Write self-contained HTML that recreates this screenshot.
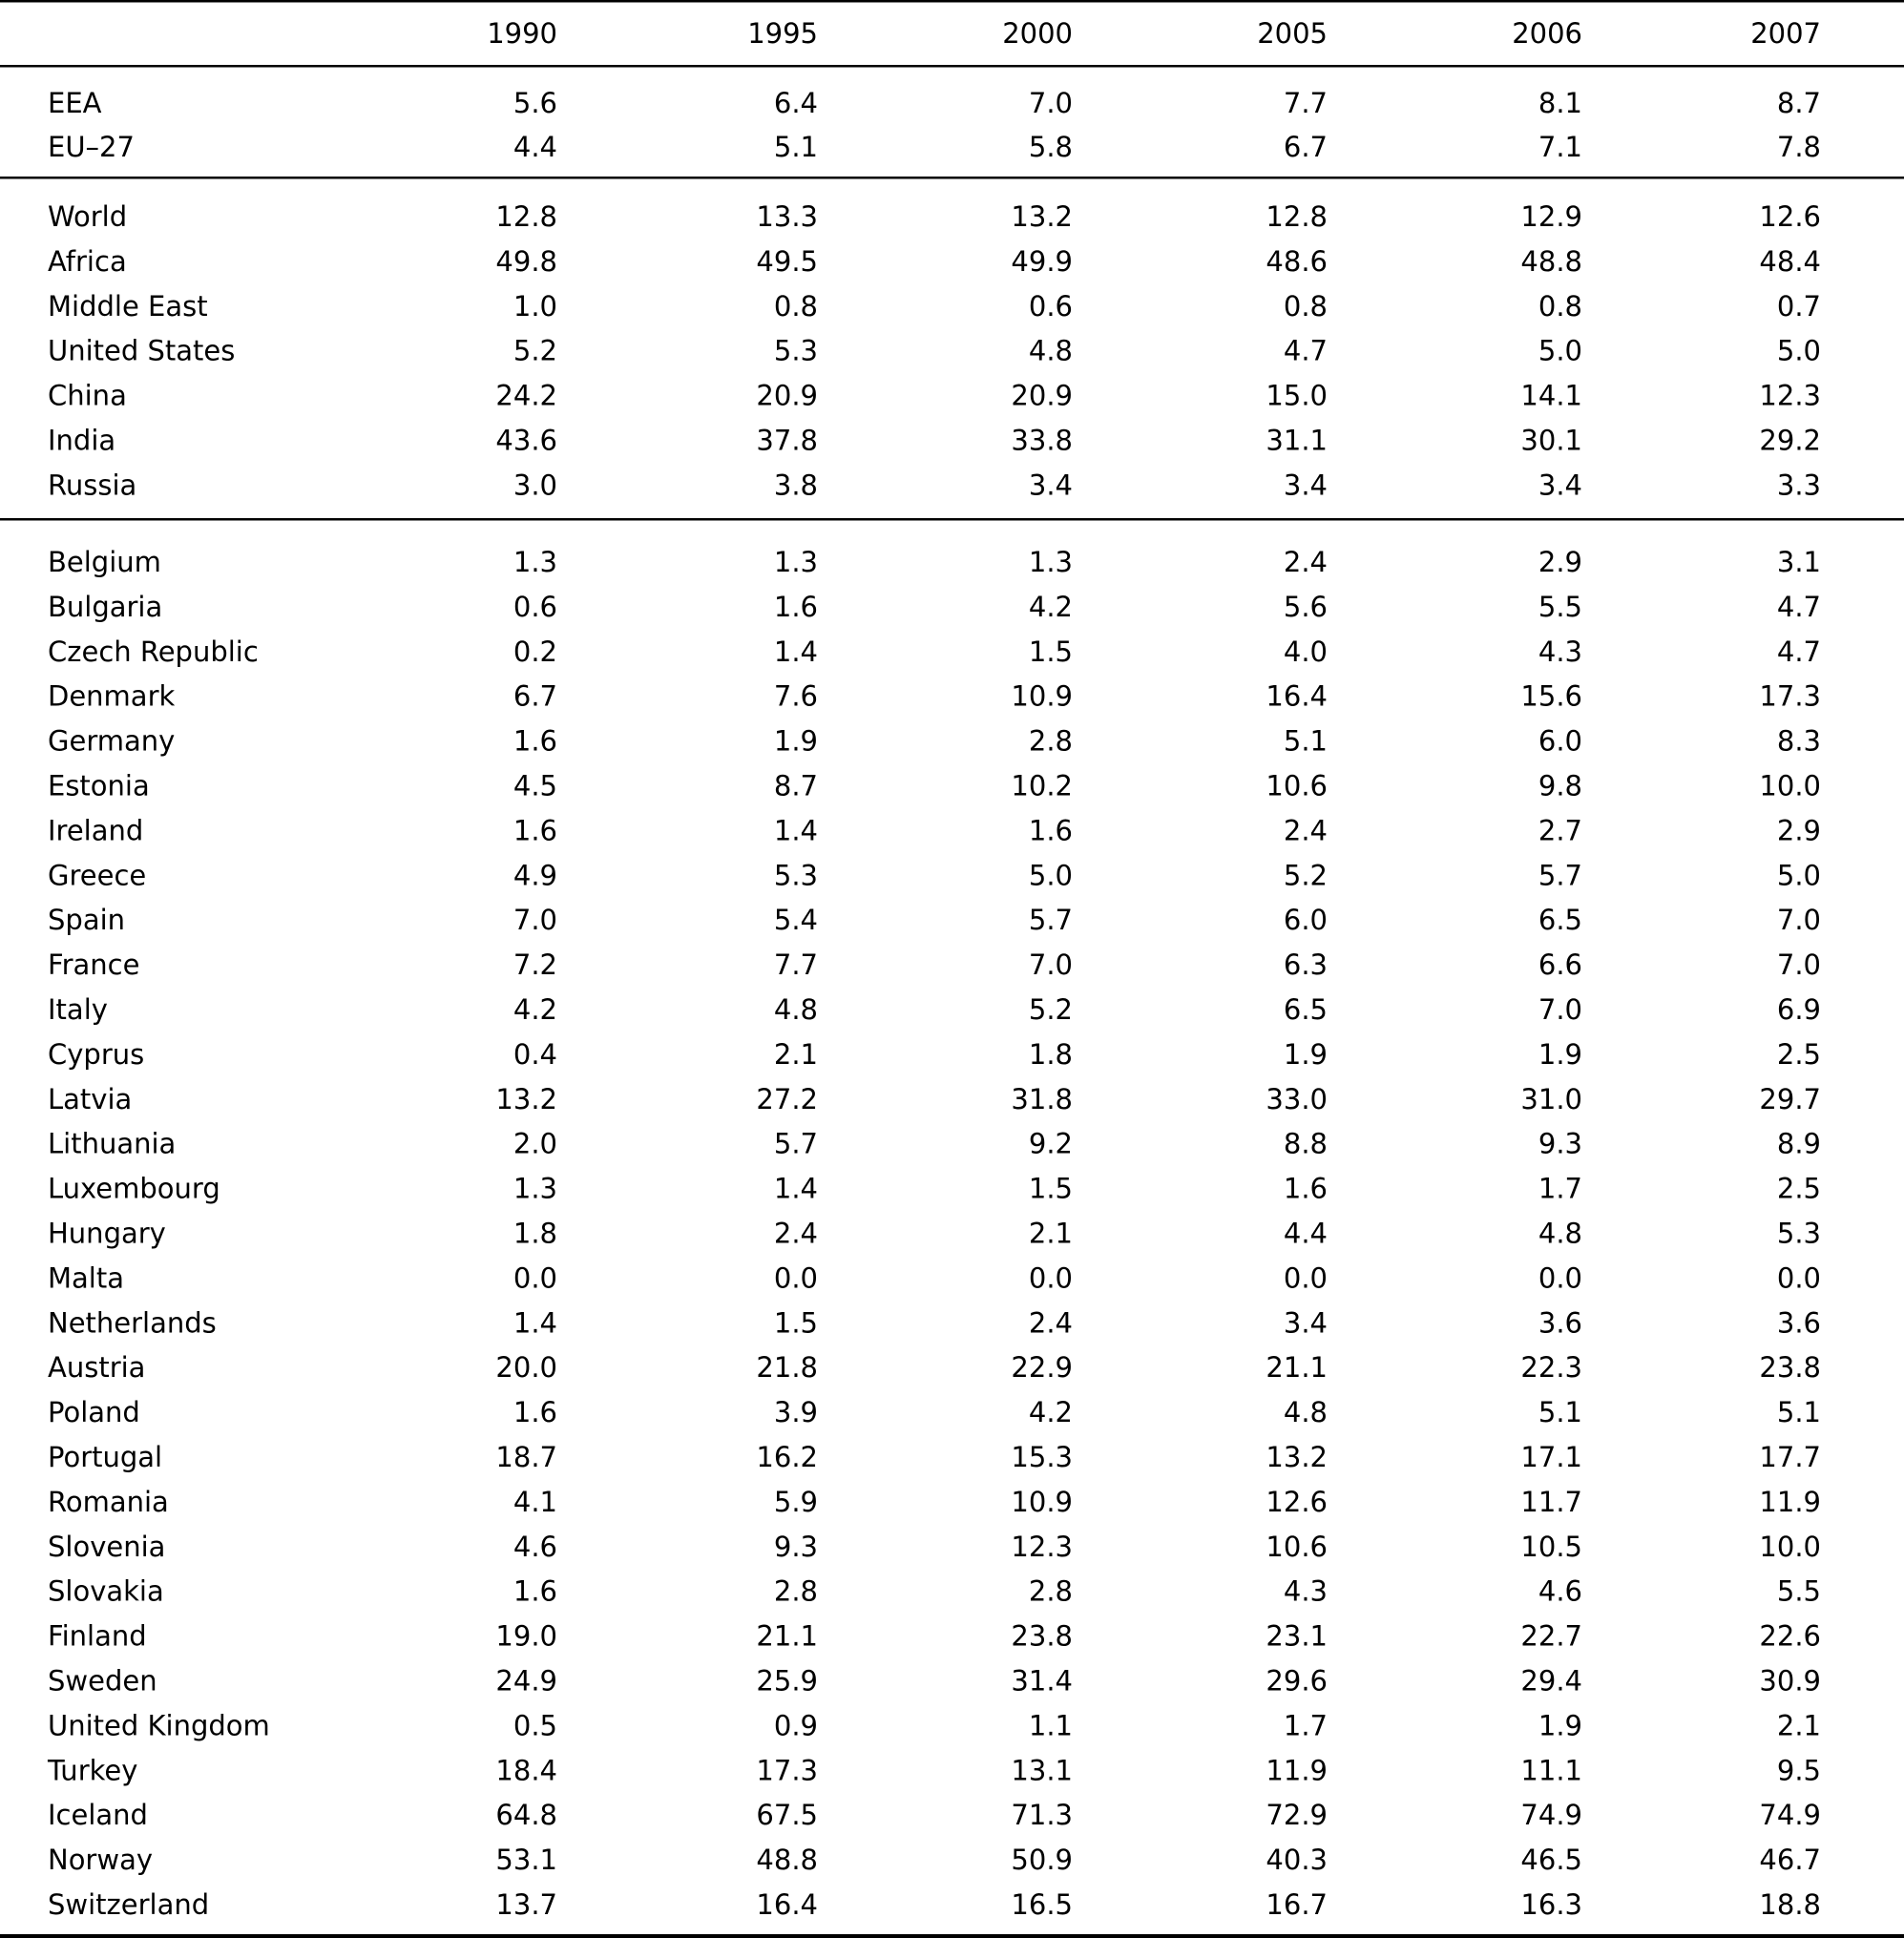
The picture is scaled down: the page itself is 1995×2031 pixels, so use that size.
<!DOCTYPE html>
<html><head><meta charset="utf-8"><style>
html,body{margin:0;padding:0;background:#fff;}
svg{display:block;}
text{font-family:"DejaVu Sans","Liberation Sans",sans-serif;font-size:29px;fill:#000;}
.r{text-anchor:end;}
</style></head><body>
<svg width="1995" height="2031" viewBox="0 0 1995 2031" xmlns="http://www.w3.org/2000/svg">
<rect x="0" y="0" width="1995" height="2031" fill="#fff"/>
<rect x="0" y="0" width="1995" height="2.5" fill="#000"/>
<rect x="0" y="68" width="1995" height="2.5" fill="#000"/>
<rect x="0" y="185" width="1995" height="2.5" fill="#000"/>
<rect x="0" y="543" width="1995" height="2.5" fill="#000"/>
<rect x="0" y="2027" width="1995" height="4" fill="#000"/>
<g id="t"></g>
</svg>
<script>
var cols=[584,857,1124,1391,1658,1908];
var rows=[
["",45,["1990","1995","2000","2005","2006","2007"]],
["EEA",118,["5.6","6.4","7.0","7.7","8.1","8.7"]],
["EU\u201327",164,["4.4","5.1","5.8","6.7","7.1","7.8"]]
];
var g1=[["World","12.8 13.3 13.2 12.8 12.9 12.6"],["Africa","49.8 49.5 49.9 48.6 48.8 48.4"],["Middle East","1.0 0.8 0.6 0.8 0.8 0.7"],["United States","5.2 5.3 4.8 4.7 5.0 5.0"],["China","24.2 20.9 20.9 15.0 14.1 12.3"],["India","43.6 37.8 33.8 31.1 30.1 29.2"],["Russia","3.0 3.8 3.4 3.4 3.4 3.3"]];
g1.forEach(function(r,i){rows.push([r[0],237+i*46.9,r[1].split(" ")]);});
var g2=[["Belgium","1.3 1.3 1.3 2.4 2.9 3.1"],["Bulgaria","0.6 1.6 4.2 5.6 5.5 4.7"],["Czech Republic","0.2 1.4 1.5 4.0 4.3 4.7"],["Denmark","6.7 7.6 10.9 16.4 15.6 17.3"],["Germany","1.6 1.9 2.8 5.1 6.0 8.3"],["Estonia","4.5 8.7 10.2 10.6 9.8 10.0"],["Ireland","1.6 1.4 1.6 2.4 2.7 2.9"],["Greece","4.9 5.3 5.0 5.2 5.7 5.0"],["Spain","7.0 5.4 5.7 6.0 6.5 7.0"],["France","7.2 7.7 7.0 6.3 6.6 7.0"],["Italy","4.2 4.8 5.2 6.5 7.0 6.9"],["Cyprus","0.4 2.1 1.8 1.9 1.9 2.5"],["Latvia","13.2 27.2 31.8 33.0 31.0 29.7"],["Lithuania","2.0 5.7 9.2 8.8 9.3 8.9"],["Luxembourg","1.3 1.4 1.5 1.6 1.7 2.5"],["Hungary","1.8 2.4 2.1 4.4 4.8 5.3"],["Malta","0.0 0.0 0.0 0.0 0.0 0.0"],["Netherlands","1.4 1.5 2.4 3.4 3.6 3.6"],["Austria","20.0 21.8 22.9 21.1 22.3 23.8"],["Poland","1.6 3.9 4.2 4.8 5.1 5.1"],["Portugal","18.7 16.2 15.3 13.2 17.1 17.7"],["Romania","4.1 5.9 10.9 12.6 11.7 11.9"],["Slovenia","4.6 9.3 12.3 10.6 10.5 10.0"],["Slovakia","1.6 2.8 2.8 4.3 4.6 5.5"],["Finland","19.0 21.1 23.8 23.1 22.7 22.6"],["Sweden","24.9 25.9 31.4 29.6 29.4 30.9"],["United Kingdom","0.5 0.9 1.1 1.7 1.9 2.1"],["Turkey","18.4 17.3 13.1 11.9 11.1 9.5"],["Iceland","64.8 67.5 71.3 72.9 74.9 74.9"],["Norway","53.1 48.8 50.9 40.3 46.5 46.7"],["Switzerland","13.7 16.4 16.5 16.7 16.3 18.8"]];
g2.forEach(function(r,i){rows.push([r[0],599+i*46.9,r[1].split(" ")]);});
var s="";
rows.forEach(function(r){
 if(r[0]) s+='<text x="50" y="'+r[1].toFixed(1)+'">'+r[0]+'</text>';
 r[2].forEach(function(v,j){s+='<text class="r" x="'+cols[j]+'" y="'+r[1].toFixed(1)+'">'+v+'</text>';});
});
document.getElementById("t").innerHTML=s;
</script>
</body></html>
